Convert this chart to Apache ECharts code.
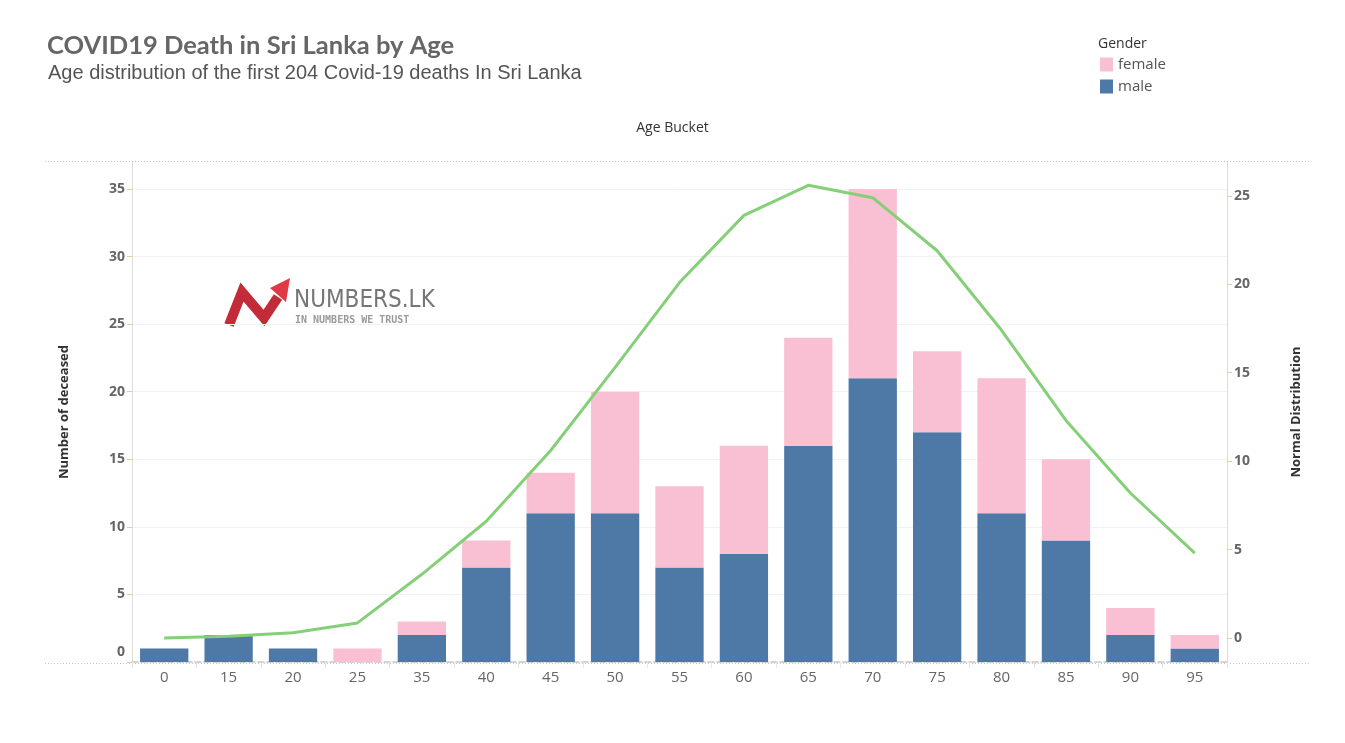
<!DOCTYPE html>
<html style="height:100%">
<head>
    <meta charset="utf-8">
    <title>COVID19 Death in Sri Lanka by Age</title>
    <script src="https://cdn.jsdelivr.net/npm/echarts@6/dist/echarts.min.js"></script>
</head>
<body style="height:100%;margin:0;background:#fff">
    <div id="main" style="width:1345px;height:743px;"></div>
    <script type="text/javascript">
        // age buckets and counts
        var ageBuckets = ['0', '15', '20', '25', '35', '40', '45', '50', '55', '60', '65', '70', '75', '80', '85', '90', '95'];
        var maleDeaths = [1, 2, 1, 0, 2, 7, 11, 11, 7, 8, 16, 21, 17, 11, 9, 2, 1];
        var femaleDeaths = [0, 0, 0, 1, 1, 2, 3, 9, 6, 8, 8, 14, 6, 10, 6, 2, 1];
        var normalDist = [0.0, 0.1, 0.3, 0.85, 3.6, 6.6, 10.6, 15.3, 20.1, 23.9, 25.6, 24.9, 21.9, 17.4, 12.3, 8.2, 4.8];
        var leftTicks = [0, 5, 10, 15, 20, 25, 30, 35];
        var rightTicks = [0, 5, 10, 15, 20, 25];

        var myChart = echarts.init(document.getElementById('main'));

        var tickColor = '#e3cf8f';
        var labelStyle = {
            color: '#666',
            fontSize: 14,
            fontWeight: 'bold',
            fontFamily: 'Open Sans'
        };

        var option = {
            backgroundColor: '#fff',
            animation: false,
            title: [{
                text: 'COVID19 Death in Sri Lanka by Age',
                left: 47,
                top: 33,
                padding: 0,
                textStyle: {
                    color: '#666',
                    fontSize: 25.5,
                    fontWeight: 'bold',
                    fontFamily: 'Lato'
                }
            }, {
                text: 'Age distribution of the first 204 Covid-19 deaths In Sri Lanka',
                left: 48,
                top: 63,
                padding: 0,
                textStyle: {
                    color: '#555',
                    fontSize: 20,
                    fontWeight: 'normal',
                    fontFamily: 'Liberation Sans'
                }
            }, {
                text: 'Age Bucket',
                left: 'center',
                top: 121,
                padding: 0,
                textStyle: {
                    color: '#333',
                    fontSize: 14,
                    fontWeight: 'normal',
                    fontFamily: 'Open Sans'
                }
            }, {
                text: 'Gender',
                left: 1098,
                top: 37,
                padding: 0,
                textStyle: {
                    color: '#333',
                    fontSize: 14,
                    fontWeight: 'normal',
                    fontFamily: 'Open Sans'
                }
            }],
            legend: {
                data: ['female', 'male'],
                orient: 'vertical',
                left: 1100,
                top: 57,
                padding: 0,
                itemWidth: 13,
                itemHeight: 14,
                itemGap: 7,
                icon: 'rect',
                textStyle: {
                    color: '#555',
                    fontSize: 15,
                    fontFamily: 'Open Sans'
                }
            },
            grid: {
                left: 132,
                right: 118,
                top: 162,
                bottom: 81
            },
            xAxis: {
                type: 'category',
                data: ageBuckets,
                axisLine: {
                    show: true,
                    lineStyle: { color: '#c8c8c8', type: 'dashed', width: 1.5 }
                },
                axisTick: {
                    show: true,
                    length: 6,
                    lineStyle: { color: '#e6e6e6' }
                },
                axisLabel: {
                    color: '#666',
                    fontSize: 15,
                    fontFamily: 'Open Sans',
                    margin: 8
                }
            },
            yAxis: [{
                type: 'value',
                min: 0,
                max: 37,
                position: 'left',
                name: 'Number of deceased',
                nameLocation: 'middle',
                nameGap: 61,
                nameTextStyle: {
                    color: '#333',
                    fontSize: 13,
                    fontWeight: 'bold',
                    fontFamily: 'Open Sans'
                },
                axisLine: { show: true, lineStyle: { color: '#dcdcdc' } },
                axisTick: {
                    show: true,
                    length: 5,
                    customValues: leftTicks,
                    lineStyle: { color: tickColor }
                },
                axisLabel: {
                    customValues: leftTicks,
                    color: labelStyle.color,
                    fontSize: labelStyle.fontSize,
                    fontWeight: labelStyle.fontWeight,
                    fontFamily: labelStyle.fontFamily,
                    margin: 7,
                    formatter: function (v) {
                        return v === 0 ? '{z|0}' : String(v);
                    },
                    rich: {
                        z: {
                            color: labelStyle.color,
                            fontSize: labelStyle.fontSize,
                            fontWeight: labelStyle.fontWeight,
                            fontFamily: labelStyle.fontFamily,
                            padding: [0, 0, 20, 0]
                        }
                    }
                },
                splitLine: {
                    show: true,
                    lineStyle: { color: '#f2f2f2' }
                }
            }, {
                type: 'value',
                min: -1.36,
                max: 26.92,
                position: 'right',
                name: 'Normal Distribution',
                nameLocation: 'middle',
                nameGap: 63,
                nameTextStyle: {
                    color: '#333',
                    fontSize: 13,
                    fontWeight: 'bold',
                    fontFamily: 'Open Sans'
                },
                axisLine: { show: true, lineStyle: { color: '#dcdcdc' } },
                axisTick: {
                    show: true,
                    length: 5,
                    customValues: rightTicks,
                    lineStyle: { color: tickColor }
                },
                axisLabel: {
                    customValues: rightTicks,
                    color: labelStyle.color,
                    fontSize: labelStyle.fontSize,
                    fontWeight: labelStyle.fontWeight,
                    fontFamily: labelStyle.fontFamily,
                    margin: 7
                },
                splitLine: { show: false }
            }],
            graphic: [{
                type: 'line',
                shape: { x1: 45, y1: 161.5, x2: 1311, y2: 161.5 },
                style: { stroke: '#c8c8c8', lineWidth: 1, lineDash: [1, 2] },
                silent: true
            }, {
                type: 'line',
                shape: { x1: 45, y1: 663.5, x2: 1311, y2: 663.5 },
                style: { stroke: '#c8c8c8', lineWidth: 1, lineDash: [1, 2] },
                silent: true
            }, {
                // watermark logo
                type: 'group',
                left: 224,
                top: 278,
                silent: true,
                children: [{
                    type: 'polyline',
                    shape: { points: [[7, 47], [20, 14], [42, 40], [56, 19]] },
                    style: { stroke: '#c42b38', lineWidth: 10, fill: null, lineJoin: 'miter', lineCap: 'butt' }
                }, {
                    type: 'polygon',
                    shape: { points: [[68, 0], [48, 10], [64, 24]] },
                    style: { fill: '#e03b44' }
                }, {
                    type: 'text',
                    x: 72,
                    y: 11,
                    style: {
                        text: 'NUMBERS.LK',
                        fill: '#767676',
                        fontSize: 24,
                        fontFamily: 'DejaVu Sans Condensed'
                    }
                }, {
                    type: 'text',
                    x: 73,
                    y: 37,
                    style: {
                        text: 'IN NUMBERS WE TRUST',
                        fill: '#9a9a9a',
                        fontSize: 10,
                        fontWeight: 'bold',
                        fontFamily: 'DejaVu Sans Mono'
                    }
                }]
            }],
            series: [{
                name: 'male',
                type: 'bar',
                stack: 'gender',
                barWidth: '75%',
                yAxisIndex: 0,
                itemStyle: { color: '#4e79a7' },
                data: maleDeaths
            }, {
                name: 'female',
                type: 'bar',
                stack: 'gender',
                barWidth: '75%',
                yAxisIndex: 0,
                itemStyle: { color: '#f9bfd3' },
                data: femaleDeaths
            }, {
                name: 'Normal Distribution',
                type: 'line',
                yAxisIndex: 1,
                symbol: 'none',
                lineStyle: { color: '#86cf79', width: 3 },
                data: normalDist,
                z: 5
            }]
        };

        myChart.setOption(option);
    </script>
</body>
</html>
